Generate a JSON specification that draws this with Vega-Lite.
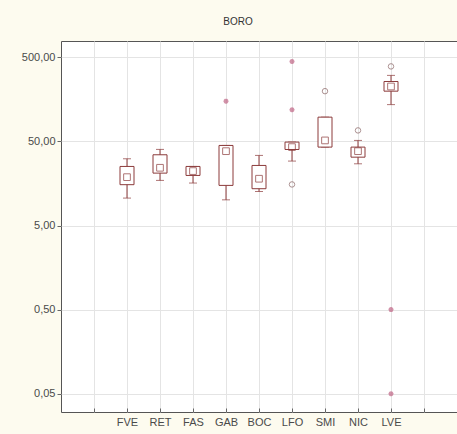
{
  "$schema": "https://vega.github.io/schema/vega-lite/v6.json",
  "width": 396,
  "height": 371,
  "autosize": {"type": "none"},
  "padding": {"left": 61, "top": 41, "right": 0, "bottom": 22},
  "background": "#fdfbef",
  "title": {"text": "BORO", "fontSize": 10, "font": "Liberation Sans", "fontWeight": "normal", "color": "#333333", "anchor": "middle", "dx": -21, "offset": 14},
  "config": {
    "view": {"fill": "white", "stroke": "#555555", "strokeWidth": 1},
    "axis": {"gridColor": "#e4e4e4", "domainColor": "#555555", "tickColor": "#666666", "labelFont": "Liberation Sans", "labelColor": "#4a4a4a", "labelFontSize": 11}
  },
  "datasets": {
    "boxes": [
      {"cat": "FVE", "lo": 10.6, "q1": 15.3, "med": 18.8, "q3": 25.2, "hi": 31.1},
      {"cat": "RET", "lo": 17.2, "q1": 21.0, "med": 24.3, "q3": 34.7, "hi": 40.2},
      {"cat": "FAS", "lo": 16.0, "q1": 19.7, "med": 22.2, "q3": 25.2, "hi": 25.2},
      {"cat": "GAB", "lo": 10.1, "q1": 15.0, "med": 38.3, "q3": 44.8, "hi": 44.8},
      {"cat": "BOC", "lo": 12.7, "q1": 13.7, "med": 18.0, "q3": 25.9, "hi": 34.1},
      {"cat": "LFO", "lo": 29.2, "q1": 40.1, "med": 42.8, "q3": 49.1, "hi": 49.1},
      {"cat": "SMI", "lo": 42.8, "q1": 42.8, "med": 51.4, "q3": 97.2, "hi": 97.2},
      {"cat": "NIC", "lo": 27.1, "q1": 32.5, "med": 38.3, "q3": 42.8, "hi": 51.4},
      {"cat": "LVE", "lo": 137, "q1": 198, "med": 225, "q3": 258, "hi": 305}
    ],
    "outliers": [
      {"cat": "GAB", "v": 150.7, "kind": "extreme"},
      {"cat": "LFO", "v": 447, "kind": "extreme"},
      {"cat": "LFO", "v": 119, "kind": "extreme"},
      {"cat": "LFO", "v": 15.4, "kind": "outlier"},
      {"cat": "SMI", "v": 198, "kind": "outlier"},
      {"cat": "NIC", "v": 67.6, "kind": "outlier"},
      {"cat": "LVE", "v": 390, "kind": "outlier"},
      {"cat": "LVE", "v": 0.5, "kind": "extreme"},
      {"cat": "LVE", "v": 0.05, "kind": "extreme"}
    ]
  },
  "encoding": {
    "x": {
      "field": "cat", "type": "nominal",
      "scale": {"type": "point", "domain": ["_a", "FVE", "RET", "FAS", "GAB", "BOC", "LFO", "SMI", "NIC", "LVE", "_b"], "padding": 1},
      "axis": {"title": null, "labelAngle": 0, "grid": true, "tickSize": -4, "labelPadding": 8, "labelExpr": "indexof(datum.value, '_') == 0 ? '' : datum.value", "domain": false}
    }
  },
  "layer": [
    {
      "data": {"name": "boxes"},
      "mark": {"type": "rule", "color": "#8c3b3b", "strokeWidth": 1},
      "encoding": {
        "y": {"field": "lo", "type": "quantitative",
          "scale": {"type": "log", "domain": [0.0303, 782], "nice": false, "zero": false},
          "axis": {"title": null, "values": [0.05, 0.5, 5, 50, 500], "labelExpr": "replace(format(datum.value, '.2f'), '.', ',')", "grid": true, "tickSize": 4, "labelPadding": 2, "domain": false}},
        "y2": {"field": "hi"}
      }
    },
    {
      "data": {"name": "boxes"},
      "mark": {"type": "tick", "color": "#8c3b3b", "size": 8, "thickness": 1},
      "encoding": {"y": {"field": "lo", "type": "quantitative"}}
    },
    {
      "data": {"name": "boxes"},
      "mark": {"type": "tick", "color": "#8c3b3b", "size": 8, "thickness": 1},
      "encoding": {"y": {"field": "hi", "type": "quantitative"}}
    },
    {
      "data": {"name": "boxes"},
      "mark": {"type": "bar", "size": 14, "fill": "white", "stroke": "#8c3b3b", "strokeWidth": 1},
      "encoding": {"y": {"field": "q1", "type": "quantitative"}, "y2": {"field": "q3"}}
    },
    {
      "data": {"name": "boxes"},
      "mark": {"type": "point", "shape": "square", "filled": false, "size": 45, "stroke": "#8c3b3b", "strokeWidth": 1},
      "encoding": {"y": {"field": "med", "type": "quantitative"}}
    },
    {
      "data": {"name": "outliers"},
      "transform": [{"filter": "datum.kind == 'outlier'"}],
      "mark": {"type": "point", "shape": "circle", "filled": false, "size": 30, "stroke": "#8a6464", "strokeWidth": 1},
      "encoding": {"y": {"field": "v", "type": "quantitative"}}
    },
    {
      "data": {"name": "outliers"},
      "transform": [{"filter": "datum.kind == 'extreme'"}],
      "mark": {"type": "point", "shape": "M-1,0L1,0M0,-1L0,1M-0.7,-0.7L0.7,0.7M-0.7,0.7L0.7,-0.7", "filled": false, "size": 25, "stroke": "#c06585", "strokeWidth": 1.5},
      "encoding": {"y": {"field": "v", "type": "quantitative"}}
    }
  ]
}
